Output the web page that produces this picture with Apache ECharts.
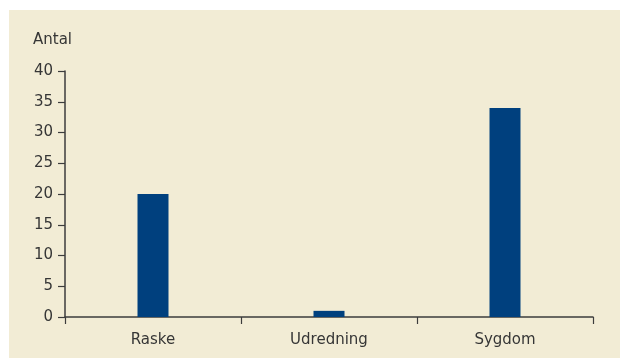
<!DOCTYPE html>
<html>
<head>
<meta charset="utf-8">
<script src="https://cdn.jsdelivr.net/npm/echarts@6/dist/echarts.min.js"></script>
<style>
  html, body { margin: 0; padding: 0; background: #ffffff; }
  #chart { width: 620px; height: 358px; }
</style>
</head>
<body>
<div id="chart"></div>
<script>
// Number of cases per group
const categories = ['Raske', 'Udredning', 'Sygdom'];
const counts = [20, 1, 34];
const yTicks = { min: 0, max: 40, interval: 5 };
const yTitle = 'Antal';

const chart = echarts.init(document.getElementById('chart'), null, { renderer: 'canvas' });
const fontFamily = '"DejaVu Sans", "Open Sans", sans-serif';
const axisColor = '#3c3c3c';
const textColor = '#363636';

chart.setOption({
  backgroundColor: '#ffffff',
  animation: false,
  graphic: [
    {
      type: 'rect',
      z: -10,
      silent: true,
      shape: { x: 9, y: 10, width: 611, height: 348 },
      style: { fill: '#f2ecd5' }
    },
    {
      type: 'text',
      left: 33,
      top: 33,
      style: { text: yTitle, font: '15px ' + fontFamily, fill: textColor }
    }
  ],
  grid: { left: 65, right: 27, top: 71, bottom: 41, containLabel: false },
  xAxis: {
    type: 'category',
    data: categories,
    boundaryGap: true,
    axisLine: { show: true, lineStyle: { color: axisColor, width: 1.5 } },
    axisTick: { show: true, length: 7, alignWithLabel: false, lineStyle: { color: axisColor, width: 1.2 } },
    axisLabel: { margin: 16, color: textColor, fontSize: 15, fontFamily: fontFamily },
    splitLine: { show: false }
  },
  yAxis: {
    type: 'value',
    min: yTicks.min,
    max: yTicks.max,
    interval: yTicks.interval,
    axisLine: { show: true, lineStyle: { color: axisColor, width: 1.5 } },
    axisTick: { show: true, length: 7, lineStyle: { color: axisColor, width: 1.2 } },
    axisLabel: { margin: 12, color: textColor, fontSize: 15, fontFamily: fontFamily },
    splitLine: { show: false }
  },
  series: [
    {
      type: 'bar',
      data: counts,
      barWidth: 31,
      itemStyle: { color: '#00407e' }
    }
  ]
});
</script>
</body>
</html>
